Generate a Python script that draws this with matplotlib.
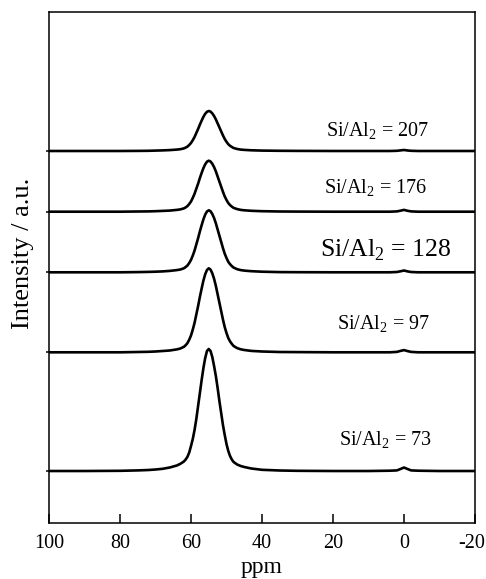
import matplotlib

matplotlib.use("Agg")
import matplotlib.pyplot as plt
from matplotlib.transforms import ScaledTranslation

plt.rcParams["font.family"] = ["Liberation Serif", "DejaVu Serif"]
plt.rcParams["mathtext.fontset"] = "custom"
plt.rcParams["mathtext.rm"] = "Liberation Serif"
plt.rcParams["axes.unicode_minus"] = False

# chemical shift grid (ppm) and intensities (a.u.)
ppm = [100, 90, 80, 75, 72, 70, 68, 66, 64, 63,
       62, 61.5, 61, 60.5, 60, 59.5, 59, 58.5, 58, 57.5,
       57, 56.5, 56, 55.5, 55, 54.5, 54, 53.5, 53, 52.5,
       52, 51.5, 51, 50.5, 50, 49.5, 49, 48.5, 48, 47,
       46, 45, 43, 40, 35, 30, 20, 10, 4, 2,
       1, 0, -1, -2, -4, -10, -20]

si207 = [0, 0, 0, 0.1, 0.2, 0.4, 0.6, 0.9, 1.4, 1.8,
         2.6, 3.4, 4.4, 6, 8, 10.8, 14, 18, 22, 26.4,
         30.4, 34.2, 37.2, 39.2, 40, 39.4, 37.6, 35, 31.6, 27.6,
         23.6, 19.6, 15.6, 12, 9.2, 6.8, 5.2, 4, 3, 2,
         1.4, 1.1, 0.7, 0.4, 0.2, 0.1, 0, 0, 0, 0.2,
         0.6, 1.0, 0.5, 0.2, 0, 0, 0]
si176 = [0, 0, 0, 0.2, 0.3, 0.5, 0.8, 1.1, 1.8, 2.3,
         3.3, 4.3, 5.6, 7.7, 10.2, 13.8, 17.9, 23, 28, 33.7,
         38.8, 43.6, 47.4, 50, 51, 50.2, 47.9, 44.6, 40.3, 35.2,
         30.1, 25, 19.9, 15.3, 11.7, 8.7, 6.6, 5.1, 3.8, 2.6,
         1.8, 1.4, 0.9, 0.5, 0.2, 0.1, 0, 0, 0, 0.3,
         1.0, 1.8, 0.9, 0.3, 0, 0, 0]
si128 = [0, 0, 0, 0.2, 0.4, 0.6, 0.9, 1.4, 2.2, 2.8,
         4.0, 5.3, 6.8, 9.3, 12.4, 16.7, 21.7, 27.9, 34.1, 40.9,
         47.1, 53, 57.7, 60.8, 62, 61.1, 58.3, 54.3, 49, 42.8,
         36.6, 30.4, 24.2, 18.6, 14.3, 10.5, 8.1, 6.2, 4.7, 3.1,
         2.2, 1.7, 1.1, 0.6, 0.2, 0.1, 0, 0, 0, 0.3,
         1.0, 1.8, 0.9, 0.3, 0, 0, 0]
si97 = [0, 0, 0, 0.3, 0.5, 0.8, 1.3, 1.8, 2.9, 3.8,
        5.5, 7.1, 9.2, 12.6, 16.8, 22.7, 29.4, 37.8, 46.2, 55.4,
        63.8, 71.8, 78.1, 82.3, 84, 82.7, 79, 73.5, 66.4, 58,
        49.6, 41.2, 32.8, 25.2, 19.3, 14.3, 10.9, 8.4, 6.3, 4.2,
        3.0, 2.3, 1.4, 0.8, 0.3, 0.2, 0, 0, 0, 0.4,
        1.4, 2.2, 1.2, 0.4, 0, 0, 0]
si73 = [0, 0, 0.2, 0.6, 1.0, 1.5, 2.2, 3.5, 5.5, 7.2,
        9.5, 11.5, 14.2, 18.5, 25, 32, 41, 52, 65, 78,
        91, 103, 113, 120, 122, 120, 114, 105, 95, 83,
        70, 58, 46, 36, 27, 20, 15, 11.5, 9, 6.5,
        5, 4, 2.5, 1.2, 0.5, 0.2, 0, 0, 0.3, 0.6,
        2.0, 3.5, 2.0, 0.6, 0.3, 0, 0]

spectra = [si207, si176, si128, si97, si73]
offsets = [372, 311.3, 250.7, 170.7, 52]
labels = ["207", "176", "128", "97", "73"]
label_x = [-7, -6.5, -13.5, -7.5, -7.8]
label_y = [386, 329, 266, 193, 77]
label_size = [14.5, 14.5, 18.5, 14.5, 14.5]

fig = plt.figure(figsize=(4.86, 5.79), dpi=100)
ax = fig.add_axes([0.1008, 0.0967, 0.8766, 0.8826])

for spec, off in zip(spectra, offsets):
    ax.plot(ppm, [off + v for v in spec], color="black", lw=1.9,
            solid_joinstyle="round")

for lab, x, y, size in zip(labels, label_x, label_y, label_size):
    ax.text(x, y, "Si/Al$_2$ = " + lab, fontsize=size, ha="right", va="baseline")

ax.set_xlim(100, -20)
ax.set_ylim(0, 511)
ax.set_xticks([100, 80, 60, 40, 20, 0, -20])
ax.set_yticks(offsets)
ax.set_yticklabels([])
ax.tick_params(axis="x", direction="in", length=6.5, width=1.1, labelsize=14.5, pad=8)
ax.tick_params(axis="y", direction="out", length=2, width=1.1)
for side in ax.spines.values():
    side.set_linewidth(1.1)

# nudge the last tick label so it stays inside the canvas
last = ax.get_xticklabels()[-1]
last.set_transform(last.get_transform() + ScaledTranslation(-2.5 / 72, 0, fig.dpi_scale_trans))

ax.set_xlabel("ppm", fontsize=17, labelpad=2.5)
fig.text(23 / 486, 0.562, "Intensity / a.u.", rotation=90, fontsize=19, ha="center", va="center")

fig.savefig("out.png", dpi=100)
